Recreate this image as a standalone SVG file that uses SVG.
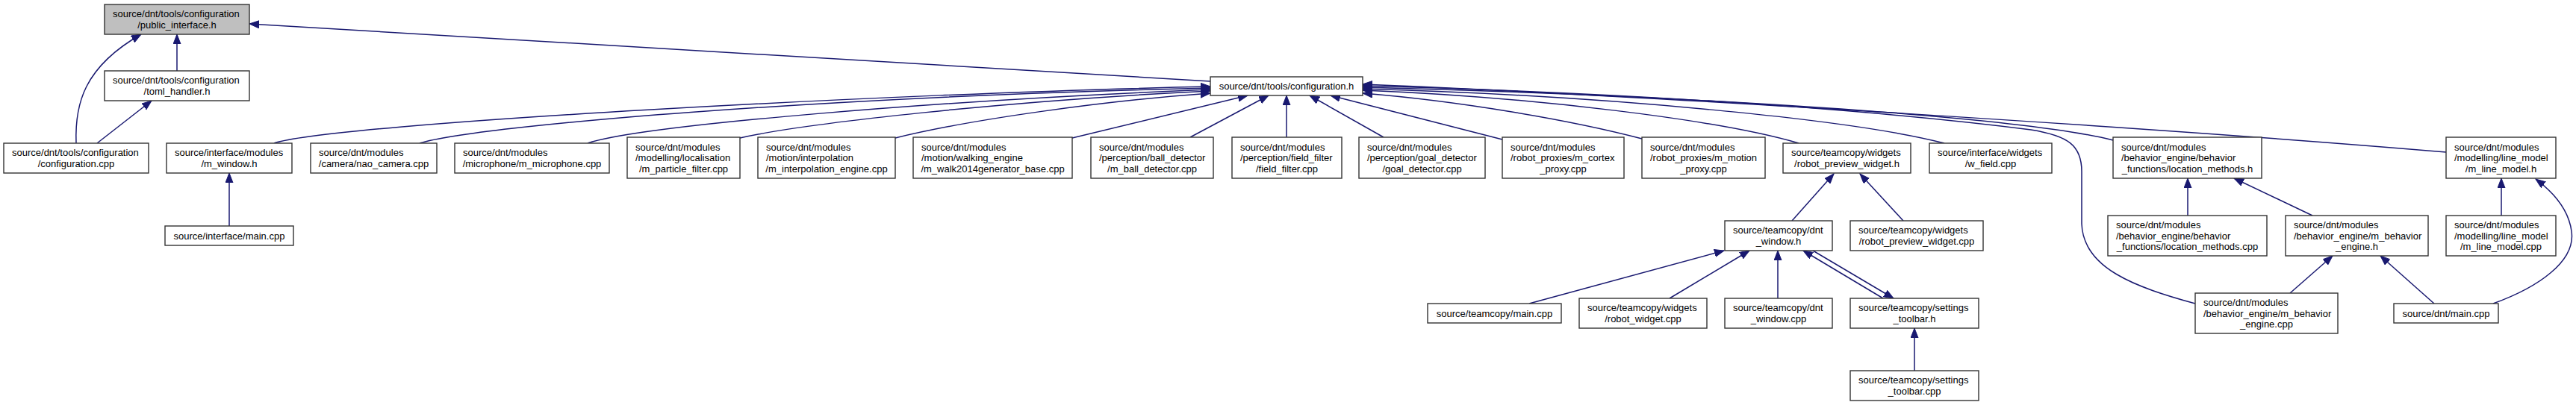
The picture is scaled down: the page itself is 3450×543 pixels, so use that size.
<svg xmlns="http://www.w3.org/2000/svg" width="3450" height="543" viewBox="0 0 3450 543">
<defs>
<marker id="arrow" markerUnits="userSpaceOnUse" markerWidth="14" markerHeight="11" refX="13" refY="5" orient="auto">
<path d="M0,0 L13,5 L0,10 z" fill="#191970" stroke="#191970" stroke-width="1"/>
</marker>
</defs>
<style>
.node rect{fill:#ffffff;stroke:#333333;stroke-width:1.4}
.node.hl rect{fill:#bfbfbf}
.node text{font-family:"Liberation Sans",Arial,Helvetica,sans-serif;font-size:13px;fill:#000000}
.node text.c{text-anchor:middle}
.edge{fill:none;stroke:#191970;stroke-width:1.5;marker-end:url(#arrow)}
</style>
<rect x="0" y="0" width="3450" height="543" fill="#ffffff"/>
<g id="connectors">
<path class="edge" d="M1621,109 L334,32"/>
<path class="edge" d="M237,95 L237,46"/>
<path class="edge" d="M130,192 L203,135"/>
<path class="edge" d="M102,192 C100,140 112,90 189,46"/>
<path class="edge" d="M307,303 L307,232"/>
<path class="edge" d="M367,192 C450,165 1200,125 1621,116"/>
<path class="edge" d="M562,192 C640,168 1100,130 1621,118"/>
<path class="edge" d="M787,192 C860,168 1250,135 1621,120"/>
<path class="edge" d="M991,185 C1080,165 1350,135 1621,122"/>
<path class="edge" d="M1199,185 C1300,160 1480,135 1621,125"/>
<path class="edge" d="M1436,185 L1671,128"/>
<path class="edge" d="M1594,184 L1699,128"/>
<path class="edge" d="M1723,184 L1723,128"/>
<path class="edge" d="M1853,184 L1754,128"/>
<path class="edge" d="M2012,187 L1782,128"/>
<path class="edge" d="M2199,186 C2100,160 1950,135 1825,125"/>
<path class="edge" d="M2409,192 C2300,160 2050,130 1825,121"/>
<path class="edge" d="M2604,192 C2480,160 2150,128 1825,119"/>
<path class="edge" d="M2830,188 C2700,155 2250,128 1825,117"/>
<path class="edge" d="M2940,407 C2860,385 2790,360 2788,300 L2788,230 C2788,195 2770,182 2720,174 C2450,140 2100,122 1825,115"/>
<path class="edge" d="M3276,204 C2900,172 2200,128 1825,113"/>
<path class="edge" d="M2400,296 L2456,233"/>
<path class="edge" d="M2549,296 L2491,233"/>
<path class="edge" d="M2048,407 L2309,336"/>
<path class="edge" d="M2236,400 L2343,336"/>
<path class="edge" d="M2381,400 L2381,336"/>
<path class="edge" d="M2522,400 L2415,336"/>
<path class="edge" d="M2428,336 L2536,400"/>
<path class="edge" d="M2564,497 L2564,440"/>
<path class="edge" d="M2930,289 L2930,239"/>
<path class="edge" d="M3097,289 L2992,239"/>
<path class="edge" d="M3067,393 L3124,343"/>
<path class="edge" d="M3260,407 L3188,343"/>
<path class="edge" d="M3350,289 L3350,239"/>
<path class="edge" d="M3339,407 C3400,385 3450,350 3444,310 C3440,280 3420,258 3396,240"/>
</g>
<g id="n_public_interface" class="node hl"><rect x="140" y="6" width="194" height="40"/><text x="151" y="23.25">source/dnt/tools/configuration</text><text class="c" x="237" y="37.75">/public_interface.h</text></g>
<g id="n_toml_handler" class="node"><rect x="140" y="95" width="194" height="40"/><text x="151" y="112.25">source/dnt/tools/configuration</text><text class="c" x="237" y="126.75">/toml_handler.h</text></g>
<g id="n_configuration_h" class="node"><rect x="1621" y="103" width="204" height="25"/><text class="c" x="1723" y="120">source/dnt/tools/configuration.h</text></g>
<g id="n_configuration_cpp" class="node"><rect x="5" y="192" width="194" height="40"/><text x="16" y="209.25">source/dnt/tools/configuration</text><text class="c" x="102" y="223.75">/configuration.cpp</text></g>
<g id="n_m_window" class="node"><rect x="223" y="192" width="168" height="40"/><text x="234" y="209.25">source/interface/modules</text><text class="c" x="307" y="223.75">/m_window.h</text></g>
<g id="n_nao_camera" class="node"><rect x="416" y="192" width="169" height="40"/><text x="427" y="209.25">source/dnt/modules</text><text class="c" x="500.5" y="223.75">/camera/nao_camera.cpp</text></g>
<g id="n_microphone" class="node"><rect x="609" y="192" width="207" height="40"/><text x="620" y="209.25">source/dnt/modules</text><text class="c" x="712.5" y="223.75">/microphone/m_microphone.cpp</text></g>
<g id="n_particle_filter" class="node"><rect x="840" y="184" width="151" height="55"/><text x="851" y="201.5">source/dnt/modules</text><text x="851" y="216">/modelling/localisation</text><text class="c" x="915.5" y="230.5">/m_particle_filter.cpp</text></g>
<g id="n_interpolation" class="node"><rect x="1015" y="184" width="184" height="55"/><text x="1026" y="201.5">source/dnt/modules</text><text x="1026" y="216">/motion/interpolation</text><text class="c" x="1107" y="230.5">/m_interpolation_engine.cpp</text></g>
<g id="n_walk2014" class="node"><rect x="1223" y="184" width="213" height="55"/><text x="1234" y="201.5">source/dnt/modules</text><text x="1234" y="216">/motion/walking_engine</text><text class="c" x="1329.5" y="230.5">/m_walk2014generator_base.cpp</text></g>
<g id="n_ball_detector" class="node"><rect x="1461" y="184" width="164" height="55"/><text x="1472" y="201.5">source/dnt/modules</text><text x="1472" y="216">/perception/ball_detector</text><text class="c" x="1543" y="230.5">/m_ball_detector.cpp</text></g>
<g id="n_field_filter" class="node"><rect x="1650" y="184" width="147" height="55"/><text x="1661" y="201.5">source/dnt/modules</text><text x="1661" y="216">/perception/field_filter</text><text class="c" x="1723.5" y="230.5">/field_filter.cpp</text></g>
<g id="n_goal_detector" class="node"><rect x="1820" y="184" width="169" height="55"/><text x="1831" y="201.5">source/dnt/modules</text><text x="1831" y="216">/perception/goal_detector</text><text class="c" x="1904.5" y="230.5">/goal_detector.cpp</text></g>
<g id="n_cortex_proxy" class="node"><rect x="2012" y="184" width="163" height="55"/><text x="2023" y="201.5">source/dnt/modules</text><text x="2023" y="216">/robot_proxies/m_cortex</text><text class="c" x="2093.5" y="230.5">_proxy.cpp</text></g>
<g id="n_motion_proxy" class="node"><rect x="2199" y="184" width="165" height="55"/><text x="2210" y="201.5">source/dnt/modules</text><text x="2210" y="216">/robot_proxies/m_motion</text><text class="c" x="2281.5" y="230.5">_proxy.cpp</text></g>
<g id="n_robot_preview_widget_h" class="node"><rect x="2388" y="192" width="171" height="40"/><text x="2399" y="209.25">source/teamcopy/widgets</text><text class="c" x="2473.5" y="223.75">/robot_preview_widget.h</text></g>
<g id="n_w_field" class="node"><rect x="2584" y="192" width="164" height="40"/><text x="2595" y="209.25">source/interface/widgets</text><text class="c" x="2666" y="223.75">/w_field.cpp</text></g>
<g id="n_location_methods_h" class="node"><rect x="2830" y="184" width="199" height="55"/><text x="2841" y="201.5">source/dnt/modules</text><text x="2841" y="216">/behavior_engine/behavior</text><text class="c" x="2929.5" y="230.5">_functions/location_methods.h</text></g>
<g id="n_m_line_model_h" class="node"><rect x="3276" y="184" width="147" height="55"/><text x="3287" y="201.5">source/dnt/modules</text><text x="3287" y="216">/modelling/line_model</text><text class="c" x="3349.5" y="230.5">/m_line_model.h</text></g>
<g id="n_interface_main" class="node"><rect x="221" y="303" width="172" height="26"/><text class="c" x="307" y="320.5">source/interface/main.cpp</text></g>
<g id="n_dnt_window_h" class="node"><rect x="2310" y="296" width="144" height="40"/><text x="2321" y="313.25">source/teamcopy/dnt</text><text class="c" x="2382" y="327.75">_window.h</text></g>
<g id="n_robot_preview_widget_cpp" class="node"><rect x="2478" y="296" width="178" height="40"/><text x="2489" y="313.25">source/teamcopy/widgets</text><text class="c" x="2567" y="327.75">/robot_preview_widget.cpp</text></g>
<g id="n_location_methods_cpp" class="node"><rect x="2823" y="289" width="213" height="54"/><text x="2834" y="306">source/dnt/modules</text><text x="2834" y="320.5">/behavior_engine/behavior</text><text class="c" x="2929.5" y="335">_functions/location_methods.cpp</text></g>
<g id="n_m_behavior_engine_h" class="node"><rect x="3061" y="289" width="191" height="54"/><text x="3072" y="306">source/dnt/modules</text><text x="3072" y="320.5">/behavior_engine/m_behavior</text><text class="c" x="3156.5" y="335">_engine.h</text></g>
<g id="n_m_line_model_cpp" class="node"><rect x="3276" y="289" width="147" height="54"/><text x="3287" y="306">source/dnt/modules</text><text x="3287" y="320.5">/modelling/line_model</text><text class="c" x="3349.5" y="335">/m_line_model.cpp</text></g>
<g id="n_teamcopy_main" class="node"><rect x="1912" y="407" width="179" height="26"/><text class="c" x="2001.5" y="424.5">source/teamcopy/main.cpp</text></g>
<g id="n_robot_widget" class="node"><rect x="2115" y="400" width="171" height="40"/><text x="2126" y="417.25">source/teamcopy/widgets</text><text class="c" x="2200.5" y="431.75">/robot_widget.cpp</text></g>
<g id="n_dnt_window_cpp" class="node"><rect x="2310" y="400" width="144" height="40"/><text x="2321" y="417.25">source/teamcopy/dnt</text><text class="c" x="2382" y="431.75">_window.cpp</text></g>
<g id="n_settings_toolbar_h" class="node"><rect x="2478" y="400" width="172" height="40"/><text x="2489" y="417.25">source/teamcopy/settings</text><text class="c" x="2564" y="431.75">_toolbar.h</text></g>
<g id="n_m_behavior_engine_cpp" class="node"><rect x="2940" y="393" width="191" height="54"/><text x="2951" y="410">source/dnt/modules</text><text x="2951" y="424.5">/behavior_engine/m_behavior</text><text class="c" x="3035.5" y="439">_engine.cpp</text></g>
<g id="n_dnt_main" class="node"><rect x="3206" y="407" width="140" height="26"/><text class="c" x="3276" y="424.5">source/dnt/main.cpp</text></g>
<g id="n_settings_toolbar_cpp" class="node"><rect x="2478" y="497" width="172" height="40"/><text x="2489" y="514.25">source/teamcopy/settings</text><text class="c" x="2564" y="528.75">_toolbar.cpp</text></g>
</svg>
